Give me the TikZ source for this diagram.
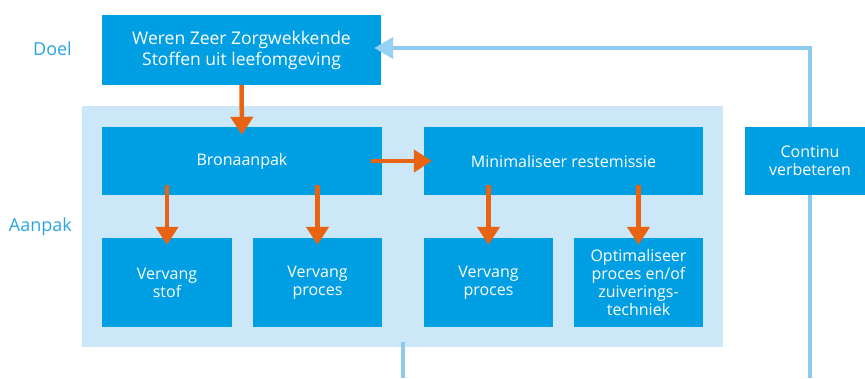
\documentclass[tikz,border=0pt]{standalone}
\usepackage{fontspec}
\setmainfont{Open Sans}
\usetikzlibrary{arrows.meta,calc}
\definecolor{boxblue}{RGB}{0,158,226}
\definecolor{panelblue}{RGB}{204,231,248}
\definecolor{loopblue}{RGB}{140,202,238}
\definecolor{loophead}{RGB}{150,208,242}
\definecolor{labelblue}{RGB}{42,165,222}
\definecolor{orangearrow}{RGB}{232,100,18}
\begin{document}
\begin{tikzpicture}[x=1pt,y=-1pt,
  box/.style={fill=boxblue,draw=none,text=white,align=center,inner sep=0pt,
    font=\fontsize{16}{18}\selectfont},
  panel/.style={fill=panelblue,draw=none,inner sep=0pt},
  sidelabel/.style={text=labelblue,anchor=east,inner sep=0pt,font=\fontsize{18}{20}\selectfont},
  oarrow/.style={draw=orangearrow,line width=4.5pt,
    -{Triangle[width=22pt,length=18pt,fill=orangearrow]}},
  loopline/.style={draw=loopblue,line width=4pt},
  looparrow/.style={draw=loopblue,line width=4pt,
    -{Triangle[width=21pt,length=19pt,color=loophead]}}
]
\useasboundingbox (0,0) rectangle (865,378);
\clip (0,0) rectangle (865,378);
% panel
\node[panel,minimum width=641pt,minimum height=241pt] (panel) at (402.5,226.5) {};
% boxes
\node[box,minimum width=279pt,minimum height=70pt,font=\fontsize{17.5}{21}\selectfont] (doelbox) at (241.5,50)
  {Weren Zeer Zorgwekkende\\Stoffen uit leefomgeving};
\node[box,minimum width=280pt,minimum height=68pt] (bron) at (242,161) {Bronaanpak};
\node[box,minimum width=279pt,minimum height=68pt] (mini) at (563.5,161) {Minimaliseer restemissie};
\node[box,minimum width=130pt,minimum height=68pt] (cont) at (810,161) {Continu\\verbeteren};
\node[box,minimum width=130pt,minimum height=89pt] (b1) at (167,282.5) {Vervang\\stof};
\node[box,minimum width=129pt,minimum height=89pt] (b2) at (317.5,282.5) {Vervang\\proces};
\node[box,minimum width=129pt,minimum height=89pt] (b3) at (488.5,282.5) {Vervang\\proces};
\node[box,minimum width=129pt,minimum height=89pt] (b4) at (638.5,282.5) {Optimaliseer\\proces en/of\\zuiverings-\\techniek};
% side labels
\node[sidelabel] (doel) at (72,49) {Doel};
\node[sidelabel] (aanpak) at (72,227) {Aanpak};
% feedback loop
\coordinate (loopcorner) at (810,48);
\coordinate (contbottom) at (810,378);
\coordinate (panelout) at (403,342);
\coordinate (paneloutbottom) at (403,378);
\draw[looparrow] (cont.north) -- (loopcorner) -- ($(doelbox.east |- loopcorner)+(-7,0)$);
\draw[loopline] (cont.south) -- (contbottom);
\draw[loopline] (panelout) -- (paneloutbottom);
% orange arrows
\draw[oarrow] (doelbox.south) -- ($(bron.north)+(0,8)$);
\draw[oarrow] ($(bron.east)+(-11,0)$) -- ($(mini.west)+(8,0)$);
\draw[oarrow] ($(b1.north |- bron.south)+(0,-10)$) -- ($(b1.north)+(0,7)$);
\draw[oarrow] ($(b2.north |- bron.south)+(0,-10)$) -- ($(b2.north)+(0,7)$);
\draw[oarrow] ($(b3.north |- mini.south)+(0,-10)$) -- ($(b3.north)+(0,7)$);
\draw[oarrow] ($(b4.north |- mini.south)+(0,-10)$) -- ($(b4.north)+(0,7)$);
\end{tikzpicture}
\end{document}
